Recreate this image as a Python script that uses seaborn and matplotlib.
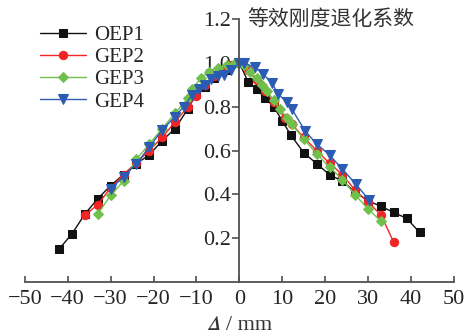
import matplotlib
matplotlib.use("Agg")
import pandas as pd
import seaborn as sns
from matplotlib import pyplot as plt

sns.set_style("ticks")
plt.rcParams['font.family'] = ['Liberation Serif', 'Noto Sans CJK SC']

# OEP1
oep1_x = [-42, -39, -36, -33, -30, -27, -24, -21, -18, -15, -12, -10, -8, -6, -3, 0,
          2, 4, 6, 8, 10, 12, 15, 18, 21, 24, 27, 30, 33, 36, 39, 42]
oep1_y = [0.15, 0.22, 0.31, 0.38, 0.44, 0.49, 0.54, 0.58, 0.645, 0.70, 0.79, 0.86, 0.89, 0.93, 0.97, 1.0,
          0.915, 0.88, 0.84, 0.80, 0.735, 0.67, 0.59, 0.54, 0.49, 0.46, 0.41, 0.37, 0.345, 0.317, 0.29, 0.226]
# GEP2
gep2_x = [-36, -33, -30, -27, -24, -21, -18, -15, -12, -10, -8, -6, -4, -2, 0,
          2, 4, 6, 8, 10.6, 12.2, 15, 18, 21, 24, 27, 30, 33, 36]
gep2_y = [0.305, 0.353, 0.43, 0.49, 0.545, 0.60, 0.66, 0.73, 0.80, 0.85, 0.90, 0.94, 0.97, 0.99, 1.0,
          0.97, 0.92, 0.873, 0.82, 0.75, 0.72, 0.66, 0.60, 0.542, 0.49, 0.418, 0.365, 0.305, 0.18]
# GEP3
gep3_x = [-33, -30, -27, -24, -21, -18, -15, -12, -11, -9, -7, -5, -3, -1, 0,
          1, 2.5, 4, 5.2, 6.5, 8, 9.5, 11, 12.2, 15, 18, 21, 24, 27, 30, 33]
gep3_y = [0.31, 0.395, 0.46, 0.56, 0.63, 0.70, 0.77, 0.84, 0.88, 0.93, 0.96, 0.975, 0.99, 1.0, 1.0,
          0.99, 0.96, 0.93, 0.90, 0.87, 0.83, 0.79, 0.75, 0.72, 0.653, 0.585, 0.525, 0.467, 0.397, 0.333, 0.277]
# GEP4
gep4_x = [-30, -27, -24, -21, -18, -15, -13, -11, -9.5, -8, -6.5, -5, -3.5, -2, 0,
          1, 3.6, 5.5, 7.5, 9, 11, 12.2, 15.3, 18, 21, 24, 27.2, 30.2]
gep4_y = [0.426, 0.48, 0.54, 0.615, 0.694, 0.755, 0.80, 0.855, 0.88, 0.90, 0.925, 0.94, 0.945, 0.97, 1.0,
          1.0, 0.98, 0.95, 0.91, 0.86, 0.82, 0.79, 0.69, 0.63, 0.58, 0.515, 0.445, 0.375]

series = [
    ("OEP1", oep1_x, oep1_y, "#111111", "s", 5.5),
    ("GEP2", gep2_x, gep2_y, "#f02525", "o", 6),
    ("GEP3", gep3_x, gep3_y, "#72c04c", "D", 5),
    ("GEP4", gep4_x, gep4_y, "#2b5cb3", "v", 7),
]

fig, ax = plt.subplots(figsize=(4.68, 3.36), dpi=100)
fig.subplots_adjust(left=0.053, right=0.970, bottom=0.161, top=0.943)

for name, xs, ys, color, marker, ms in series:
    df = pd.DataFrame({"x": xs, "y": ys})
    sns.lineplot(data=df, x="x", y="y", ax=ax, color=color, marker=marker, markersize=ms,
                 markeredgecolor=color, linewidth=1, label=name, sort=False, estimator=None)

ax.set_xlim(-50, 50)
ax.set_ylim(0, 1.2)
ax.set_xticks(range(-50, 51, 10))
ax.set_yticks([0.2, 0.4, 0.6, 0.8, 1.0, 1.2])
ax.set_yticklabels(["0.2", "0.4", "0.6", "0.8", "1.0", "1.2"])
ax.set_xticklabels(["\u221250", "\u221240", "\u221230", "\u221220", "\u221210", "0",
                    "10", "20", "30", "40", "50"])

ax.spines['left'].set_position(('data', 0))
ax.spines['right'].set_visible(False)
ax.spines['top'].set_visible(False)
for s in ['left', 'bottom']:
    ax.spines[s].set_color('#505050')
    ax.spines[s].set_linewidth(1.3)
ax.tick_params(axis='x', direction='in', length=4, width=1.2, color='#505050', labelsize=16, pad=6)
ax.tick_params(axis='y', direction='out', length=5, width=1.2, color='#505050', labelsize=16, pad=1)

# italic Delta from the bundled STIX font
ax.set_xlabel("\U0001D6E5 / mm", fontsize=16, labelpad=5, color='#333333',
              family=['Liberation Serif', 'STIXGeneral'])
ax.set_ylabel("")
ax.text(1.8, 1.2, "等效刚度退化系数", fontsize=15, va='center', ha='left', color='#333333',
        family=['Noto Sans CJK SC'])

ax.legend(loc='upper left', bbox_to_anchor=(0.035, 0.975), borderaxespad=0, frameon=False,
          fontsize=15, handlelength=2.2, handletextpad=0.4, labelspacing=0.12, borderpad=0)

fig.savefig("out.png", dpi=100)
